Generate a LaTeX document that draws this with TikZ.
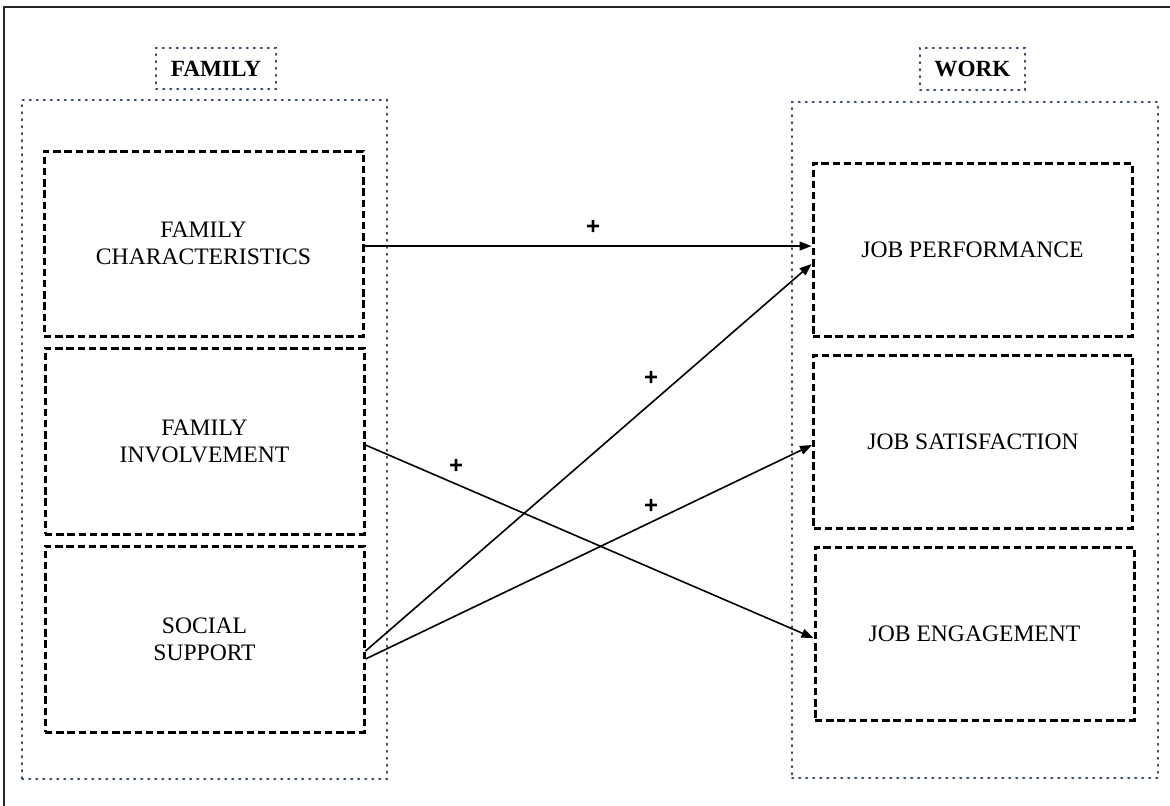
\documentclass[tikz,border=0pt]{standalone}
\usepackage{fontspec}
\setmainfont{Liberation Serif}
\newfontfamily\plusfont{Liberation Sans}
\usetikzlibrary{arrows.meta,calc}
\definecolor{dotblue}{RGB}{55,75,105}
\begin{document}
\begin{tikzpicture}[x=0.5pt,y=-0.5pt,
  frame/.style={draw=black!85,line width=1pt},
  group/.style={draw=dotblue,line width=0.85pt,dash pattern=on 0.7pt off 2.8pt,line cap=round},
  grouplabel/.style={group,inner sep=0pt,font=\fontsize{11.6}{13.5}\selectfont\bfseries},
  factor/.style={draw=black,line width=1.5pt,dash pattern=on 3.7pt off 1.9pt,
    inner sep=0pt,minimum width=159.5pt,align=center,
    font=\fontsize{11.8}{13.5}\selectfont},
  link/.style={draw=black,line width=0.8pt,-{Triangle[length=6pt,width=4.5pt]}},
  sign/.style={font=\plusfont\bfseries\fontsize{12}{12}\selectfont,inner sep=0pt}]
\useasboundingbox (0,0) rectangle (1170,805);
% outer frame (runs off the page on the right and bottom)
\draw[frame] (4,7) rectangle (1190,830);

% group containers and their titles
\node[group,minimum width=182.5pt,minimum height=339.5pt,inner sep=0pt] (famgrp) at (204.5,439.5) {};
\node[group,minimum width=183pt,minimum height=338pt,inner sep=0pt] (workgrp) at (975,440) {};
\node[grouplabel,minimum width=60pt,minimum height=20.5pt] (famlbl) at (216,68.5) {FAMILY};
\node[grouplabel,minimum width=52.5pt,minimum height=21pt] (worklbl) at (972.5,69) {WORK};

% family factors
\node[factor,minimum height=92.5pt] (fc) at (203.5,243.5) {FAMILY\\CHARACTERISTICS};
\node[factor,minimum height=93pt] (fi) at (204.5,441) {FAMILY\\INVOLVEMENT};
\node[factor,minimum height=93pt] (ss) at (204.5,639) {SOCIAL\\SUPPORT};

% work outcomes
\node[factor,minimum height=86.5pt] (jp) at (972.5,249.5) {JOB PERFORMANCE};
\node[factor,minimum height=86.5pt] (js) at (973,441.5) {JOB SATISFACTION};
\node[factor,minimum height=86.5pt] (je) at (974.5,633.5) {JOB ENGAGEMENT};

% effects
\coordinate (s1) at ($(fc.east)+(0,2.5)$);
\draw[link] (s1) -- (s1 -| jp.west);
\draw[link] ($(ss.east)+(0,12)$) -- ($(jp.west)+(0,14.5)$);
\draw[link] ($(ss.east)+(0,20)$) -- ($(js.west)+(0,3.5)$);
\draw[link] ($(fi.east)+(0,4)$) -- ($(je.west)+(0,4.5)$);

% signs of the effects
\node[sign] (p1) at (593,227) {+};
\node[sign] (p2) at (651,378) {+};
\node[sign] (p3) at (651,506) {+};
\node[sign] (p4) at (456,466) {+};
\end{tikzpicture}
\end{document}
